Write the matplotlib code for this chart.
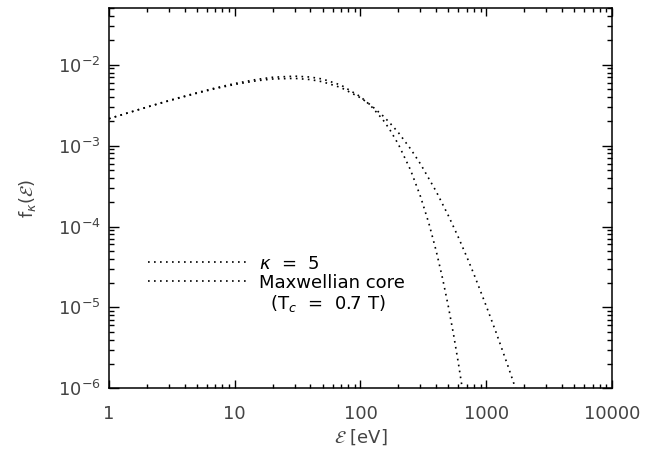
import numpy as np
import matplotlib.pyplot as plt
from matplotlib.ticker import LogLocator, NullFormatter

# energy grid [eV] and distributions
e_max = [1, 1.5, 2, 3, 5, 7, 10, 15, 20, 30, 40, 50, 70, 100, 120, 150, 170,
         200, 250, 300, 350, 400, 450, 500, 550, 600, 650, 700]
f_max = [2.15e-3, 2.61e-3, 2.99e-3, 3.61e-3, 4.50e-3, 5.15e-3, 5.85e-3,
         6.58e-3, 6.98e-3, 7.21e-3, 7.03e-3, 6.64e-3, 5.59e-3, 4.02e-3,
         3.14e-3, 2.11e-3, 1.60e-3, 1.04e-3, 5.00e-4, 2.35e-4, 1.09e-4,
         4.98e-5, 2.26e-5, 1.02e-5, 4.59e-6, 2.06e-6, 9.17e-7, 4.09e-7]

e_kap = [1, 1.5, 2, 3, 5, 7, 10, 15, 20, 30, 40, 50, 70, 100, 120, 150, 170,
         200, 250, 300, 400, 500, 600, 700, 800, 1000, 1200, 1500, 1700, 2000]
f_kap = [2.15e-3, 2.60e-3, 2.98e-3, 3.57e-3, 4.43e-3, 5.05e-3, 5.69e-3,
         6.33e-3, 6.65e-3, 6.77e-3, 6.54e-3, 6.14e-3, 5.21e-3, 3.90e-3,
         3.19e-3, 2.35e-3, 1.93e-3, 1.45e-3, 9.12e-4, 5.93e-4, 2.71e-4,
         1.36e-4, 7.36e-5, 4.22e-5, 2.55e-5, 1.04e-5, 4.86e-6, 1.82e-6,
         1.02e-6, 4.86e-7]

x_ticks = [1, 10, 100, 1000, 10000]
x_labels = ["1", "10", "100", "1000", "10000"]

plt.rcParams['font.family'] = ['DejaVu Sans']
plt.rcParams['mathtext.fontset'] = 'dejavusans'

fig = plt.figure(figsize=(6.56, 4.5), dpi=100)
ax = fig.add_axes([0.166, 0.137, 0.767, 0.845])

dot = (0, (1, 2.6))
ax.loglog(e_kap, f_kap, color="black", lw=1.2, linestyle=dot, label=r"$\kappa$  =  5")
ax.loglog(e_max, f_max, color="black", lw=1.2, linestyle=dot, label="Maxwellian core")
ax.plot([], [], " ", label=r"  (T$_c$  =  0.7 T)")

ax.set_xlim(1, 10000)
ax.set_ylim(1e-6, 5e-2)

ax.set_xticks(x_ticks)
ax.set_xticklabels(x_labels)
ax.xaxis.set_minor_locator(LogLocator(base=10, subs=np.arange(2, 10)))
ax.yaxis.set_minor_locator(LogLocator(base=10, subs=np.arange(2, 10)))
ax.xaxis.set_minor_formatter(NullFormatter())
ax.yaxis.set_minor_formatter(NullFormatter())

ax.tick_params(which="both", direction="in", top=True, right=True,
               labelsize=13, labelcolor="#444444", width=1)
ax.tick_params(axis="x", which="major", length=5.5, pad=12)
ax.tick_params(axis="x", which="minor", length=3)
ax.tick_params(axis="y", which="major", length=7.5, pad=6)
ax.tick_params(axis="y", which="minor", length=3.8)
for sp in ax.spines.values():
    sp.set_linewidth(1.1)

ax.set_xlabel(r"$\mathcal{E}$ [eV]", fontsize=13, color="#444444", labelpad=3)
ax.set_ylabel(r"f$_\kappa$($\mathcal{E}$)", fontsize=13, color="#444444", labelpad=14)

ax.legend(loc="upper left", bbox_to_anchor=(0.06, 0.375), frameon=False,
          fontsize=13, handlelength=5.4, handletextpad=0.72, labelspacing=0.05,
          borderpad=0)

fig.savefig("out.png", dpi=100)
